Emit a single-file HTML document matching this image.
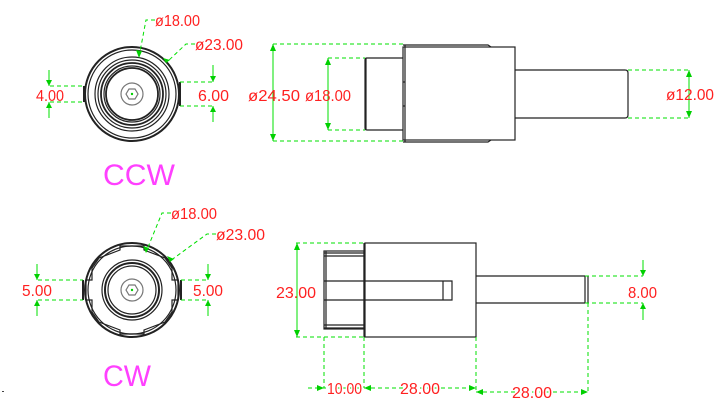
<!DOCTYPE html>
<html><head><meta charset="utf-8"><style>
html,body{margin:0;padding:0;background:#fff;width:715px;height:406px;overflow:hidden}
svg{display:block}
text{font-family:"Liberation Sans",sans-serif;fill:#ff2020;font-size:16px}
.d{stroke:#00e000;stroke-width:1;stroke-dasharray:4,3;fill:none}
.s{stroke:#00e000;stroke-width:1;fill:none}
.k{stroke:#222;stroke-width:1.2;fill:none}
.a{fill:#00d000}
.m{fill:#ff40ff;stroke:none;font-size:30px}
</style></head><body>
<svg width="715" height="406" viewBox="0 0 715 406" xmlns="http://www.w3.org/2000/svg">
<!-- TOP LEFT CIRCLE -->
<g class="k">
<circle cx="132" cy="94" r="47" stroke-width="2"/>
<circle cx="132" cy="94" r="44"/>
<circle cx="132" cy="94" r="37"/>
<circle cx="132" cy="94" r="34"/>
<circle cx="132" cy="94" r="31" stroke-width="1.8"/>
<circle cx="132" cy="94" r="28"/>
<circle cx="132" cy="94" r="26" stroke-width="1.8"/>
<circle cx="132" cy="94" r="11" stroke="#777"/>
<polygon points="126,94 129,89 135,89 138,94 135,99 129,99" stroke="#777"/>
</g>
<line x1="84" y1="86" x2="84" y2="102" stroke="#222" stroke-width="2"/>
<line x1="180" y1="82" x2="180" y2="106" stroke="#222" stroke-width="2"/>
<circle cx="132" cy="94" r="1.2" class="a"/>
<path class="d" d="M50 86H84M50 102H84M180 82H214M180 106H214"/>
<path class="s" d="M49 70V86M49 102V118M213 65V82M213 106V122"/>
<path class="a" d="M46 80L49 86L52 80ZM46 108L49 102L52 108ZM210 76L213 82L216 76ZM210 112L213 106L216 112Z"/>
<text x="36" y="101" textLength="28" lengthAdjust="spacingAndGlyphs">4.00</text>
<text x="198" y="101" textLength="31" lengthAdjust="spacingAndGlyphs">6.00</text>
<path class="d" d="M155 20H146L139 57M195 44H186L167 62"/>
<path class="a" d="M136 50L139 58L142 51ZM163 58L166 63L170 60Z"/>
<text x="155" y="26" textLength="45" lengthAdjust="spacingAndGlyphs">ø18.00</text>
<text x="195" y="50" textLength="48" lengthAdjust="spacingAndGlyphs">ø23.00</text>
<text x="103" y="185" class="m" textLength="72" lengthAdjust="spacingAndGlyphs">CCW</text>

<!-- TOP RIGHT -->
<g class="k">
<rect x="403" y="47" width="112" height="93"/>
<path d="M403 45H488L491 47M403 142H488L491 140"/>
<line x1="405" y1="45" x2="405" y2="142"/>
<path d="M403 58H367Q365 58 365 60V128Q365 130 367 130H403"/>
<line x1="366" y1="58" x2="366" y2="130"/>
<path d="M403 82H405M403 106H405"/>
<path d="M515 70H625Q628 70 628 73V115Q628 118 625 118H515"/>
</g>
<path class="d" d="M273 44H403M273 141H403M328 58H365M328 130H365M628 70H690M628 118H690"/>
<path class="s" d="M273 44V141M328 58V130M689 70V118"/>
<path class="a" d="M270 51L273 44L276 51ZM270 134L273 141L276 134ZM325 65L328 58L331 65ZM325 123L328 130L331 123ZM686 77L689 70L692 77ZM686 111L689 118L692 111Z"/>
<text x="248" y="101" textLength="52" lengthAdjust="spacingAndGlyphs">ø24.50</text>
<text x="305" y="101" textLength="46" lengthAdjust="spacingAndGlyphs">ø18.00</text>
<text x="666" y="100" textLength="48" lengthAdjust="spacingAndGlyphs">ø12.00</text>

<!-- BOTTOM LEFT CIRCLE -->
<g class="k">
<circle cx="132" cy="290" r="47" stroke-width="2"/>
<circle cx="132" cy="290" r="44"/>
<path d="M99 258L120 250V246H144V250L165 258L172 268V280L178 280V300L172 300V312L165 322L144 330V334H120V330L99 322L92 312V300H86V280H92V268Z"/>
<circle cx="132" cy="290" r="30"/>
<circle cx="132" cy="290" r="27" stroke-width="2"/>
<circle cx="132" cy="290" r="24"/>
<circle cx="132" cy="290" r="11" stroke="#777"/>
<polygon points="126,290 129,285 135,285 138,290 135,295 129,295" stroke="#777"/>
</g>
<line x1="83" y1="280" x2="83" y2="300" stroke="#222" stroke-width="2"/>
<line x1="181" y1="280" x2="181" y2="300" stroke="#222" stroke-width="2"/>
<circle cx="132" cy="290" r="1.2" class="a"/>
<path class="d" d="M38 280H83M38 300H83M181 280H209M181 300H209"/>
<path class="s" d="M37 264V280M37 300V316M208 264V280M208 300V316"/>
<path class="a" d="M34 274L37 280L40 274ZM34 306L37 300L40 306ZM205 274L208 280L211 274ZM205 306L208 300L211 306Z"/>
<text x="22" y="296" textLength="30" lengthAdjust="spacingAndGlyphs">5.00</text>
<text x="193" y="296" textLength="30" lengthAdjust="spacingAndGlyphs">5.00</text>
<path class="d" d="M171 213H162L146 252M216 234H207L170 261"/>
<path class="a" d="M143 246L146 253L149 248ZM167 256L170 262L174 259Z"/>
<text x="171" y="219" textLength="46" lengthAdjust="spacingAndGlyphs">ø18.00</text>
<text x="216" y="240" textLength="49" lengthAdjust="spacingAndGlyphs">ø23.00</text>
<text x="103" y="386" class="m" textLength="48" lengthAdjust="spacingAndGlyphs">CW</text>
<rect x="2" y="391" width="2" height="1" fill="#444"/>

<!-- BOTTOM RIGHT -->
<g class="k">
<rect x="365" y="243" width="111" height="94"/>
<line x1="364" y1="243" x2="364" y2="337"/>
<rect x="324" y="251" width="40" height="78"/>
<path d="M326 251V329M324 253H364M324 256H364M324 325H364M324 328H364"/>
<path d="M324 281H452V300H324M443 281V300"/>
<path d="M476 276H585M476 303H585M585 276V303M588 276V303"/>
</g>
<path class="d" d="M296 243H365M296 337H365M585 276H643M585 303H643"/>
<path class="s" d="M297 243V337M643 260V276M643 303V320"/>
<path class="a" d="M294 250L297 243L300 250ZM294 330L297 337L300 330ZM640 270L643 276L646 270ZM640 309L643 303L646 309Z"/>
<text x="276" y="298" textLength="40" lengthAdjust="spacingAndGlyphs">23.00</text>
<text x="628" y="298" textLength="29" lengthAdjust="spacingAndGlyphs">8.00</text>
<path class="d" d="M324 337V388M364 337V388M476 337V392M588 303V392M308 388H476M476 392H588"/>
<path class="a" d="M317 385L324 388L317 391ZM371 385L364 388L371 391ZM469 385L476 388L469 391ZM483 389L476 392L483 395ZM581 389L588 392L581 395Z"/>
<text x="327" y="394" textLength="35" lengthAdjust="spacingAndGlyphs" style="paint-order:stroke;stroke:#fff;stroke-width:3px">10.00</text>
<text x="400" y="394" textLength="40" lengthAdjust="spacingAndGlyphs" style="paint-order:stroke;stroke:#fff;stroke-width:3px">28.00</text>
<text x="512" y="398" textLength="40" lengthAdjust="spacingAndGlyphs" style="paint-order:stroke;stroke:#fff;stroke-width:3px">28.00</text>
</svg>
</body></html>
